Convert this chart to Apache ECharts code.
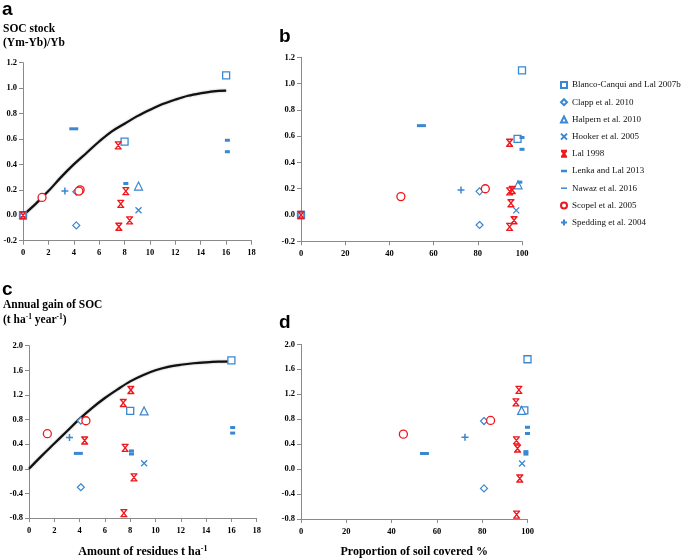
<!DOCTYPE html>
<html>
<head>
<meta charset="utf-8">
<script src="https://cdn.jsdelivr.net/npm/echarts@6/dist/echarts.min.js"></script>
<style>html,body{margin:0;padding:0;background:#fff;}#c{width:685px;height:559px;}</style>
</head>
<body>
<div id="c"></div>
<script>
// ---------- DATA ----------
const studies = ['Blanco-Canqui and Lal 2007b','Clapp et al. 2010','Halpern et al. 2010','Hooker et al. 2005','Lal 1998','Lenka and Lal 2013','Nawaz et al. 2016','Scopel et al. 2005','Spedding et al. 2004'];

const xTicksResidues = [0,2,4,6,8,10,12,14,16,18];
const xTicksCover = [0,20,40,60,80,100];
const yTicksStock = [-0.2,0.0,0.2,0.4,0.6,0.8,1.0,1.2];
const yTicksGain = [-0.8,-0.4,0.0,0.4,0.8,1.2,1.6,2.0];

// panel a: SOC stock ratio vs residues (t/ha)
const aCurve = [[0,0],[1,0.09],[2,0.19],[3,0.30],[4,0.40],[5,0.49],[6,0.58],[7,0.66],[8,0.72],[9,0.78],[10,0.83],[11,0.875],[12,0.91],[13,0.94],[14,0.96],[15,0.975],[16,0.98]];
const aBlanco = [[16,1.10],[8,0.58],[0,0]];
const aClapp = [[4.2,0.185],[4.2,-0.08],[0,0]];
const aHalpern = [[9.1,0.23]];
const aHooker = [[9.1,0.04]];
const aLal = [[7.5,0.55],[8.1,0.19],[7.7,0.09],[8.4,-0.04],[7.55,-0.09],[0,0]];
const aLenka = [[8.1,0.25],[16.1,0.59],[16.1,0.50]];
const aNawaz = [[4.0,0.68]];
const aScopel = [[1.5,0.14],[4.5,0.20],[4.4,0.19]];
const aSpedding = [[3.3,0.19]];

// panel b: SOC stock ratio vs proportion of soil covered (%)
const bBlanco = [[100,1.10],[98,0.58],[0,0]];
const bClapp = [[80.8,0.18],[80.8,-0.076],[0,0]];
const bHalpern = [[98.2,0.23]];
const bHooker = [[97.4,0.035]];
const bLal = [[94.4,0.55],[94.4,0.18],[95.6,0.19],[95.0,0.09],[96.4,-0.04],[94.4,-0.09],[0,0]];
const bLenka = [[99.0,0.25],[100,0.59],[100,0.50]];
const bNawaz = [[54.5,0.68]];
const bScopel = [[45.2,0.14],[83.4,0.20]];
const bSpedding = [[72.4,0.19]];

// panel c: annual SOC gain vs residues (t/ha)
const cCurve = [[0,0],[1,0.21],[2,0.41],[3,0.61],[4,0.81],[5,0.99],[6,1.15],[7,1.29],[8,1.42],[9,1.52],[10,1.60],[11,1.655],[12,1.69],[13,1.715],[14,1.73],[15,1.74],[16,1.745]];
const cBlanco = [[16,1.76],[8,0.94]];
const cClapp = [[4.1,0.78],[4.1,-0.30]];
const cHalpern = [[9.1,0.94]];
const cHooker = [[9.1,0.09]];
const cLal = [[4.4,0.46],[7.45,1.07],[8.05,1.28],[7.6,0.34],[8.3,-0.14],[7.5,-0.72]];
const cLenka = [[8.1,0.29],[8.1,0.24],[16.1,0.67],[16.1,0.58]];
const cNawaz = [[3.9,0.25]];
const cScopel = [[1.45,0.57],[4.5,0.78]];
const cSpedding = [[3.2,0.51]];

// panel d: annual SOC gain vs proportion of soil covered (%)
const dBlanco = [[100,1.76],[98.6,0.94]];
const dClapp = [[80.8,0.77],[80.8,-0.31]];
const dHalpern = [[97.4,0.94]];
const dHooker = [[97.6,0.09]];
const dLal = [[96.2,1.27],[94.9,1.07],[95.1,0.46],[95.6,0.33],[96.6,-0.15],[95.2,-0.73]];
const dLenka = [[100,0.67],[100,0.57],[99.3,0.28],[99.3,0.24]];
const dNawaz = [[54.5,0.25]];
const dScopel = [[45.2,0.56],[83.7,0.78]];
const dSpedding = [[72.4,0.51]];

// ---------- STYLE ----------
const BLUE = '#3a87d2';
const RED = '#f0161c';
const SERIF = 'Liberation Serif';
const markers = [
  {symbol:'rect', size:7, color:'#fff', border:BLUE, bw:1.3, keep:true},
  {symbol:'diamond', size:7, color:'#fff', border:BLUE, bw:1.2, keep:true},
  {symbol:'triangle', size:8, color:'#fff', border:BLUE, bw:1.2, keep:true},
  {symbol:'path://M0,0L10,10M10,0L0,10', size:6, color:'rgba(0,0,0,0)', border:BLUE, bw:1.3, keep:true},
  {symbol:'path://M1,0L9,10M9,0L1,10M0,0L10,0M0,10L10,10', size:7, color:'rgba(0,0,0,0)', border:RED, bw:1.4, keep:true},
  {symbol:'rect', size:[5,3], color:BLUE, border:BLUE, bw:0, keep:false},
  {symbol:'rect', size:[9,3], color:BLUE, border:BLUE, bw:0, keep:false},
  {symbol:'circle', size:8, color:'#fff', border:RED, bw:1.3, keep:true},
  {symbol:'path://M5,0L5,10M0,5L10,5', size:7, color:'rgba(0,0,0,0)', border:BLUE, bw:1.5, keep:true}
];
const legendIcons = [null,null,null,null,null,'path://M0,3L6,3L6,5.5L0,5.5Z','path://M0,3L10,3L10,5.5L0,5.5Z',null,null];
const panels = [
  [aBlanco,aClapp,aHalpern,aHooker,aLal,aLenka,aNawaz,aScopel,aSpedding],
  [bBlanco,bClapp,bHalpern,bHooker,bLal,bLenka,bNawaz,bScopel,bSpedding],
  [cBlanco,cClapp,cHalpern,cHooker,cLal,cLenka,cNawaz,cScopel,cSpedding],
  [dBlanco,dClapp,dHalpern,dHooker,dLal,dLenka,dNawaz,dScopel,dSpedding]
];

const series = [];
[aCurve, null, cCurve, null].forEach((cv, i) => {
  if (!cv) return;
  series.push({type:'line', xAxisIndex:i, yAxisIndex:i, data:cv, smooth:0.35, symbol:'none', z:1,
    lineStyle:{color:'#111', width:2.2, shadowColor:'rgba(0,0,0,0.35)', shadowBlur:2}, silent:true});
});
panels.forEach((pdata, i) => {
  pdata.forEach((d, k) => {
    const m = markers[k];
    series.push({type:'scatter', name:studies[k], xAxisIndex:i, yAxisIndex:i, data:d,
      symbol:m.symbol, symbolSize:m.size, symbolKeepAspect:m.keep, clip:false, z:3,
      itemStyle:{color:m.color, borderColor:m.border, borderWidth:m.bw, opacity:1}});
  });
});

const grids = [
  {left:23, top:62.7, width:228.5, height:178},
  {left:301, top:57.3, width:221, height:184},
  {left:29, top:345.7, width:227.7, height:179.3},
  {left:301, top:344.3, width:226.5, height:180}
];
const lab = {fontFamily:SERIF, fontWeight:'bold', fontSize:8.5, color:'#000'};
const axisCommon = {axisLine:{onZero:false, lineStyle:{color:'#8a8a8a', width:1}},
  axisTick:{show:true, length:4, lineStyle:{color:'#8a8a8a'}}, splitLine:{show:false}};
function xAx(i, ticks, name){
  const o = Object.assign({type:'value', gridIndex:i, min:ticks[0], max:ticks[ticks.length-1],
    interval:ticks[1]-ticks[0], axisLabel:Object.assign({margin:8}, lab)}, axisCommon);
  if (name) { o.name = name.text; o.nameLocation='middle'; o.nameGap=27;
    o.nameTextStyle = {fontFamily:SERIF, fontWeight:'bold', fontSize:12, color:'#000',
      rich:{n:{fontFamily:SERIF, fontWeight:'bold', fontSize:12, lineHeight:14},
            s:{fontFamily:SERIF, fontWeight:'bold', fontSize:8, lineHeight:8, verticalAlign:'top'}}}; }
  return o;
}
function yAx(i, ticks){
  return Object.assign({type:'value', gridIndex:i, min:ticks[0], max:ticks[ticks.length-1],
    interval:Math.round((ticks[1]-ticks[0])*10)/10,
    axisLabel:Object.assign({margin:6, formatter:v => (Math.abs(v)<1e-9?0:v).toFixed(1)}, lab)}, axisCommon);
}

const titleFont = (sz) => ({fontFamily:SERIF, fontWeight:'bold', fontSize:sz, fill:'#000'});
const letterFont = {fontFamily:'Liberation Sans', fontWeight:'bold', fontSize:19, fill:'#000'};
const graphic = [
  {type:'text', left:2, top:0, style:Object.assign({text:'a'}, letterFont)},
  {type:'text', left:3, top:23, style:Object.assign({text:'SOC stock'}, titleFont(11.5))},
  {type:'text', left:3, top:37, style:Object.assign({text:'(Ym-Yb)/Yb'}, titleFont(11.5))},
  {type:'text', left:279, top:27, style:Object.assign({text:'b'}, letterFont)},
  {type:'text', left:2, top:280, style:Object.assign({text:'c'}, letterFont)},
  {type:'text', left:3, top:299, style:Object.assign({text:'Annual gain of SOC'}, titleFont(11.5))},
  {type:'text', left:3, top:313, style:{text:'{n|(t ha}{s|-1}{n| year}{s|-1}{n|)}',
     rich:{n:{fontFamily:SERIF, fontWeight:'bold', fontSize:11.5, lineHeight:14},
           s:{fontFamily:SERIF, fontWeight:'bold', fontSize:7.5, lineHeight:8, verticalAlign:'top'}}}},
  {type:'text', left:279, top:313, style:Object.assign({text:'d'}, letterFont)}
];

const chart = echarts.init(document.getElementById('c'), null, {renderer:'canvas'});
chart.setOption({
  animation:false,
  backgroundColor:'#fff',
  grid:grids,
  xAxis:[xAx(0,xTicksResidues), xAx(1,xTicksCover),
         xAx(2,xTicksResidues,{text:'{n|Amount of residues t ha}{s|-1}'}),
         xAx(3,xTicksCover,{text:'Proportion of soil covered %'})],
  yAxis:[yAx(0,yTicksStock), yAx(1,yTicksStock), yAx(2,yTicksGain), yAx(3,yTicksGain)],
  legend:{data:studies.map((s,k) => legendIcons[k] ? {name:s, icon:legendIcons[k]} : {name:s}),
    orient:'vertical', left:555, top:75, itemWidth:6, itemHeight:6, itemGap:7.2,
    textStyle:{fontFamily:SERIF, fontSize:9, color:'#111', lineHeight:10}, selectedMode:false},
  graphic:graphic,
  series:series
});
</script>
</body>
</html>
